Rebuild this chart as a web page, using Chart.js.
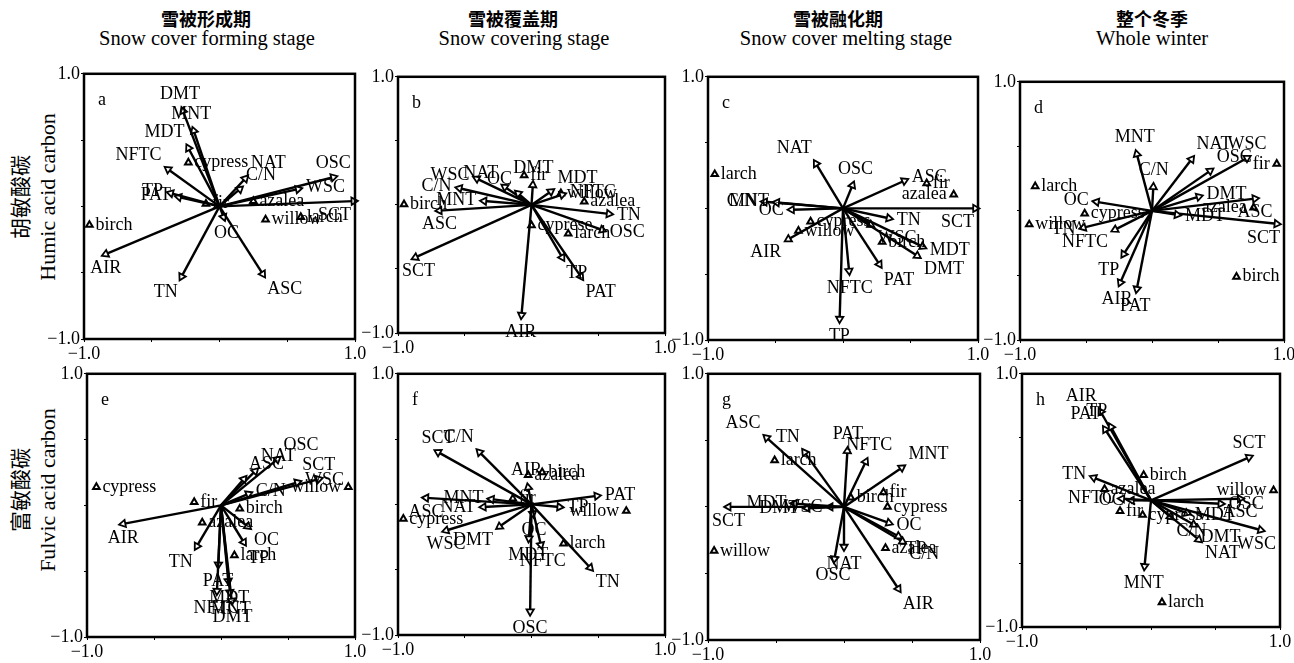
<!DOCTYPE html>
<html>
<head>
<meta charset="utf-8">
<script src="https://cdn.jsdelivr.net/npm/chart.js@4.4.0/dist/chart.umd.min.js"></script>
<style>
body { margin: 0; background: #fff; width: 1294px; height: 663px; position: relative; overflow: hidden; font-family: 'Liberation Serif', serif; }
canvas { position: absolute; }
.zh { position: absolute; font-family: 'Noto Sans CJK SC', sans-serif; font-weight: bold; font-size: 18px; transform: translateX(-50%); white-space: nowrap; }
.en { position: absolute; font-family: 'Liberation Serif', serif; font-size: 20.5px; transform: translateX(-50%); white-space: nowrap; }
.yl { position: absolute; white-space: nowrap; transform: translate(-50%, -50%) rotate(-90deg); }
</style>
</head>
<body>
<div class="zh" style="left:206px;top:5px">雪被形成期</div>
<div class="en" style="left:207px;top:27px">Snow cover forming stage</div>
<div class="zh" style="left:513px;top:5px">雪被覆盖期</div>
<div class="en" style="left:524px;top:27px">Snow covering stage</div>
<div class="zh" style="left:838px;top:5px">雪被融化期</div>
<div class="en" style="left:846px;top:27px">Snow cover melting stage</div>
<div class="zh" style="left:1152px;top:5px">整个冬季</div>
<div class="en" style="left:1152px;top:27px">Whole winter</div>
<div class="yl" style="left:19px;top:197px;font-family:'Noto Sans CJK SC';font-size:21px">胡敏酸碳</div>
<div class="yl" style="left:48px;top:197px;font-size:22px">Humic acid carbon</div>
<div class="yl" style="left:19px;top:490px;font-family:'Noto Sans CJK SC';font-size:21px">富敏酸碳</div>
<div class="yl" style="left:48px;top:490px;font-size:22px">Fulvic acid carbon</div>
<script>
// environmental variables (arrows) and tree species (triangles)
const variables = ['DMT', 'MNT', 'MDT', 'NFTC', 'TP', 'PAT', 'AIR', 'TN', 'ASC', 'OC', 'NAT', 'C/N', 'WSC', 'OSC', 'SCT'];
const species = ['cypress', 'fir', 'birch', 'azalea', 'willow', 'larch'];
const speciesB = ['cyprese', 'fir', 'birch', 'azalea', 'willow', 'larch'];
const axisTicks = [-1, 1];

// humic acid carbon
const varsA = [[-0.27, 0.72], [-0.19, 0.57], [-0.23, 0.44], [-0.38, 0.28], [-0.36, 0.10], [-0.30, 0.07], [-0.84, -0.36], [-0.28, -0.53], [0.32, -0.51], [0.03, -0.08], [0.19, 0.21], [0.15, 0.13], [0.58, 0.13], [0.84, 0.22], [0.99, 0.04]];
const sppA = [[-0.23, 0.33], [-0.10, 0.02], [-0.96, -0.14], [0.25, 0.04], [0.34, -0.10], [0.60, -0.08]];
const varsB = [[0.01, 0.155], [-0.355, 0.03], [0.145, 0.105], [0.23, 0.08], [0.23, -0.41], [0.37, -0.56], [-0.075, -0.86], [0.58, -0.07], [-0.69, -0.045], [-0.10, 0.09], [-0.20, 0.14], [-0.54, 0.13], [-0.41, 0.205], [0.53, -0.195], [-0.87, -0.41]];
const sppB = [[0.0, -0.16], [-0.055, 0.23], [-0.955, 0.005], [0.395, 0.025], [0.22, 0.09], [0.275, -0.225]];
const varsC = [[0.55, -0.36], [-0.49, 0.045], [0.59, -0.29], [0.045, -0.475], [-0.025, -0.84], [0.27, -0.425], [-0.405, -0.235], [0.34, -0.075], [0.455, 0.21], [-0.38, -0.01], [-0.20, 0.34], [-0.58, 0.05], [0.205, -0.125], [0.07, 0.175], [0.98, 0.0]];
const sppC = [[-0.24, -0.10], [0.62, 0.19], [0.29, -0.255], [0.82, 0.105], [-0.33, -0.17], [-0.95, 0.26]];
const varsD = [[0.355, 0.11], [-0.115, 0.44], [0.19, -0.03], [-0.28, -0.145], [-0.215, -0.335], [-0.115, -0.605], [-0.24, -0.555], [-0.52, -0.13], [0.78, 0.095], [-0.42, 0.07], [0.30, 0.40], [0.01, 0.185], [0.72, 0.41], [0.44, 0.31], [0.945, -0.10]];
const sppD = [[-0.51, -0.02], [0.945, 0.365], [0.64, -0.51], [0.77, 0.025], [-0.93, -0.105], [-0.885, 0.19]];

// fulvic acid carbon
const varsE = [[0.08, -0.725], [0.067, -0.66], [0.055, -0.575], [-0.03, -0.65], [0.17, -0.28], [-0.02, -0.45], [-0.73, -0.14], [-0.18, -0.31], [0.17, 0.20], [0.20, -0.16], [0.255, 0.26], [0.205, 0.087], [0.57, 0.175], [0.42, 0.35], [0.73, 0.20]];
const sppE = [[-0.93, 0.14], [-0.20, 0.025], [0.14, -0.025], [-0.14, -0.13], [0.95, 0.14], [0.10, -0.38]];
const varsF = [[-0.24, -0.17], [-0.30, 0.04], [-0.02, -0.26], [0.07, -0.31], [0.21, -0.02], [0.49, 0.065], [-0.025, 0.13], [0.44, -0.485], [-0.79, 0.05], [0.01, -0.07], [-0.36, -0.02], [-0.39, 0.40], [-0.64, -0.20], [-0.01, -0.82], [-0.70, 0.40]];
const sppF = [[-0.96, -0.11], [-0.14, 0.045], [0.08, 0.245], [-0.025, 0.225], [0.71, -0.05], [0.24, -0.30]];
const varsG = [[-0.27, -0.01], [0.425, 0.295], [-0.365, 0.025], [0.16, 0.34], [0.40, -0.22], [0.025, 0.42], [0.40, -0.615], [-0.29, 0.41], [-0.57, 0.52], [0.33, -0.12], [0.0, -0.30], [0.43, -0.26], [-0.10, 0.0], [-0.07, -0.39], [-0.85, 0.0]];
const sppG = [[0.32, 0.0], [0.29, 0.11], [0.05, 0.07], [0.305, -0.31], [-0.955, -0.33], [-0.51, 0.35]];
const varsH = [[0.33, -0.19], [-0.05, -0.52], [0.28, -0.10], [-0.225, 0.013], [-0.31, 0.58], [-0.355, 0.56], [-0.39, 0.70], [-0.445, 0.18], [0.69, 0.013], [-0.15, 0.0], [0.37, -0.31], [0.15, -0.13], [0.85, -0.234], [0.54, -0.026], [0.76, 0.34]];
const sppH = [[-0.065, -0.115], [-0.24, -0.085], [-0.057, 0.20], [-0.36, 0.09], [0.95, 0.08], [0.085, -0.805]];

const PAD_L = 42, PAD_R = 40, PAD_T = 8, PAD_B = 26;
const FONT = "'Liberation Serif', serif";

const panels = [
  { letter: 'a', box: [84, 70, 355, 339], vars: varsA, spp: sppA, names: species },
  { letter: 'b', box: [398, 73, 665, 333], vars: varsB, spp: sppB, names: speciesB },
  { letter: 'c', box: [708, 73, 978, 340], vars: varsC, spp: sppC, names: species },
  { letter: 'd', box: [1020, 78, 1284, 340], vars: varsD, spp: sppD, names: species },
  { letter: 'e', box: [87, 370, 355, 637], vars: varsE, spp: sppE, names: species },
  { letter: 'f', box: [398, 370, 665, 635], vars: varsF, spp: sppF, names: species },
  { letter: 'g', box: [708, 370, 980, 640], vars: varsG, spp: sppG, names: species },
  { letter: 'h', box: [1022, 370, 1280, 627], vars: varsH, spp: sppH, names: species }
];

function fits(ctx, a, text, x, align) {
  const w = ctx.measureText(text).width;
  const left = align === 'left' ? x : (align === 'right' ? x - w : x - w / 2);
  return left >= a.left + 2 && left + w <= a.right - 2;
}

function put(ctx, text, x, y, align, base) {
  ctx.textAlign = align;
  ctx.textBaseline = base;
  ctx.fillText(text, x, y);
}

const labelPlugin = {
  id: 'labels',
  afterDraw(chart) {
    const ctx = chart.ctx, a = chart.chartArea;
    const xs = chart.scales.x, ys = chart.scales.y;
    ctx.save();
    ctx.strokeStyle = '#000';
    ctx.lineWidth = 2.5;
    ctx.strokeRect(a.left, a.top, a.right - a.left, a.bottom - a.top);
    ctx.fillStyle = '#000';
    ctx.font = '18px ' + FONT;
    put(ctx, chart.options.plugins.labels.letter, a.left + 14, a.top + 31, 'left', 'alphabetic');
    chart.data.datasets.forEach(ds => {
      if (ds.kind === 'arrow') {
        const p = ds.data[1];
        const px = xs.getPixelForValue(p.x), py = ys.getPixelForValue(p.y);
        const ox = xs.getPixelForValue(0), oy = ys.getPixelForValue(0);
        let ux = px - ox, uy = py - oy;
        const len = Math.hypot(ux, uy) || 1;
        ux /= len; uy /= len;
        const align = ux > 0.45 ? 'left' : (ux < -0.45 ? 'right' : 'center');
        const base = uy > 0.45 ? 'top' : (uy < -0.45 ? 'bottom' : 'middle');
        const tx = px + ux * 8, ty = py + uy * 8;
        if (fits(ctx, a, ds.label, tx, align)) {
          put(ctx, ds.label, tx, ty, align, base);
        } else {
          // tip close to the frame: centre the name above or below the head, inside
          const hw = ctx.measureText(ds.label).width / 2;
          const cx = Math.min(Math.max(px, a.left + 4 + hw), a.right - 4 - hw);
          if (uy < -0.15) put(ctx, ds.label, cx, py - 5, 'center', 'bottom');
          else put(ctx, ds.label, cx, py + 5, 'center', 'top');
        }
      } else if (ds.kind === 'species') {
        ds.data.forEach((p, i) => {
          const px = xs.getPixelForValue(p.x), py = ys.getPixelForValue(p.y);
          if (fits(ctx, a, ds.names[i], px + 6, 'left')) put(ctx, ds.names[i], px + 6, py, 'left', 'middle');
          else put(ctx, ds.names[i], px - 7, py, 'right', 'middle');
        });
      }
    });
    ctx.restore();
  }
};

function axis(pos) {
  return {
    type: 'linear', position: pos, min: -1, max: 1,
    afterBuildTicks: s => { s.ticks = [-1, -0.5, 0, 0.5, 1].map(v => ({ value: v })); },
    afterFit: s => { if (pos === 'left') s.width = PAD_L; else s.height = PAD_B; },
    ticks: {
      color: '#000', padding: 1,
      font: { family: FONT, size: 18 },
      callback: v => axisTicks.includes(v) ? (v < 0 ? '\u2212' : '') + Math.abs(v).toFixed(1) : ''
    },
    grid: { display: true, drawOnChartArea: false, drawTicks: true, tickLength: 3, color: '#000' },
    border: { display: false }
  };
}

panels.forEach(pn => {
  const [L, T, R, B] = pn.box;
  const cv = document.createElement('canvas');
  cv.width = R - L + PAD_L + PAD_R;
  cv.height = B - T + PAD_T + PAD_B;
  cv.style.left = (L - PAD_L) + 'px';
  cv.style.top = (T - PAD_T) + 'px';
  document.body.appendChild(cv);
  const sx = (R - L) / 2, sy = (B - T) / 2;

  const datasets = pn.vars.map((v, i) => ({
    kind: 'arrow',
    label: variables[i],
    data: [{ x: 0, y: 0 }, { x: v[0], y: v[1] }],
    showLine: true,
    borderColor: '#000',
    borderWidth: 2.4,
    pointStyle: 'triangle',
    pointRadius: [0, 4.2],
    pointRotation: [0, Math.atan2(v[0] * sx, v[1] * sy) * 180 / Math.PI],
    pointBackgroundColor: '#fff',
    pointBorderColor: '#000',
    pointBorderWidth: 1.8,
    clip: false
  }));
  datasets.push({
    kind: 'species',
    names: pn.names,
    data: pn.spp.map(s => ({ x: s[0], y: s[1] })),
    showLine: false,
    pointStyle: 'triangle',
    pointRadius: 3.8,
    pointBackgroundColor: '#fff',
    pointBorderColor: '#000',
    pointBorderWidth: 2,
    clip: false
  });

  new Chart(cv.getContext('2d'), {
    type: 'scatter',
    data: { datasets: datasets },
    options: {
      responsive: false,
      animation: false,
      layout: { padding: { top: PAD_T, right: PAD_R, left: 0, bottom: 0 } },
      scales: { x: axis('bottom'), y: axis('left') },
      plugins: { legend: { display: false }, tooltip: { enabled: false }, labels: { letter: pn.letter } }
    },
    plugins: [labelPlugin]
  });
});
</script>
</body>
</html>
